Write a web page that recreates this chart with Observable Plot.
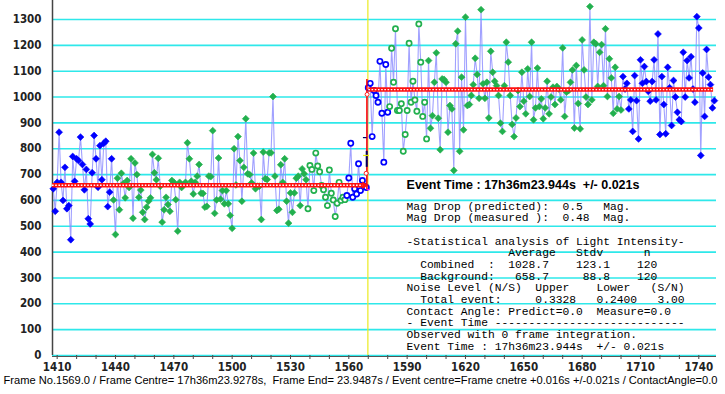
<!DOCTYPE html>
<html><head><meta charset="utf-8">
<script src="https://cdn.jsdelivr.net/npm/d3@7"></script>
<script src="https://cdn.jsdelivr.net/npm/@observablehq/plot@0.6"></script>
<style>
body{margin:0;background:#fff;}
svg text{white-space:pre;}
</style></head>
<body><div id="chart"></div>
<script>
// ---- data (one value per frame, starting at firstFrame) ----
const firstFrame = 1408;
const intensity = [
 645,558,670,864,670,600,728,568,580,448,770,674,761,754,845,739,641,720,529,509,707,851,761,651,812,680,821,829,576,632,761,
 602,468,686,564,705,665,610,677,650,761,531,745,700,612,640,554,526,574,597,610,778,707,680,763,655,516,564,612,584,558,677,670,603,481,670,650,660,670,
 823,761,674,625,670,694,739,628,627,574,577,694,692,870,550,602,764,605,638,587,638,587,542,492,800,660,847,754,597,728,
 916,703,700,668,783,645,655,655,526,787,684,681,784,784,1002,694,561,566,738,670,761,597,512,629,554,629,686,694,580,722,
 703,680,568,735,720,638,783,733,711,
 658,641,612,580,718,628,602,538,589,670,600,612,603,619,687,821,612,645,625,742,638,677,655,650,
 1036,1053,847,1025,1006,980,1138,937,748,1126,941,963,1189,1057,1264,948,948,974,790,855,948,1208,980,1061,989,945,1283,1135,925,980,
 838,1141,879,928,1057,1171,918,796,1070,1068,1057,864,967,
 954,716,1206,1255,790,1077,873,1309,967,971,1006,1048,1150,1087,995,1338,1051,995,1057,919,1177,1096,1061,1044,1006,899,867,1044,1212,1135,
 1006,894,847,919,1025,963,1096,984,935,1109,1002,1212,912,958,1112,963,993,916,958,1061,935,1000,1038,971,1041,1031,989,1190,925,1019,
 1025,1057,1105,880,1122,975,877,1221,1105,
 1000,971,1350,989,1212,1206,1041,1173,1203,1044,1264,1002,1148,1074,937,1115,954,1002,950,
 1079,1031,1053,954,989,867,1083,986,838,1144,1053,1118,1060,1022,984,1060,1144,989,1244,855,1079,971,858,1115,1036,890,1064,1000,941,912,
 905,1173,1000,1141,1074,1156,1031,980,1311,1267,774,1093,925,1184,1077,1048,958,986
];
// marker groups by frame range
const groupStart = [1408, 1439, 1539, 1559, 1581, 1601, 1701];
const groupColor = ["blue", "green", "green", "blue", "green", "green", "blue"];
const groupHollow = [false, false, true, true, true, false, false];
// mean levels
const levelValue = [658.7, 1028.7];
const levelFrom = [1407.6, 1570.3];
const levelTo = [1568.6, 1747.6];
const eventFrame = 1569.8;
// axis ticks
const yTicks = d3.range(0, 1301, 100);
const xMinorTicks = d3.range(1410, 1750, 10);
const xLabelTicks = [1410,1440,1470,1500,1530,1560,1590,1620,1650,1680,1710,1740];
// texts
const eventLine = "Event Time : 17h36m23.944s  +/- 0.021s";
const infoLines = [
 "Mag Drop (predicted):  0.5   Mag.",
 "Mag Drop (measured ):  0.48  Mag.",
 "",
 "-Statistical analysis of Light Intensity-",
 "               Average   Stdv      n",
 "  Combined  :  1028.7    123.1    120",
 "  Background:   658.7     88.8    120",
 "Noise Level (N/S)  Upper    Lower   (S/N)",
 "  Total event:     0.3328   0.2400   3.00",
 "Contact Angle: Predict=0.0  Measure=0.0",
 "- Event Time ----------------------------",
 "Observed with 0 frame integration.",
 "Event Time : 17h36m23.944s  +/- 0.021s"
];
const caption = "Frame No.1569.0 / Frame Centre= 17h36m23.9278s,  Frame End= 23.9487s / Event centre=Frame cnetre +0.016s +/-0.021s / ContactAngle=0.0";

// ---- build table ----
const colors = {blue: "#0000ff", green: "#22b04e"};
const pts = intensity.map((v, i) => {
  const f = firstFrame + i;
  let g = 0;
  for (let k = 0; k < groupStart.length; k++) if (f >= groupStart[k]) g = k;
  return {frame: f, value: v, color: colors[groupColor[g]], hollow: groupHollow[g]};
});
const levels = levelValue.map((v, i) => ({value: v, x1: levelFrom[i], x2: levelTo[i]}));

const cyan = "#2ee8ea";
const plot = Plot.plot({
  width: 725, height: 394,
  marginLeft: 52, marginRight: 9, marginTop: 0, marginBottom: 39,
  x: {domain: [1407.6, 1749.1]},
  y: {domain: [0, 1373.5]},
  style: {fontFamily: "'DejaVu Sans Condensed','Liberation Sans',sans-serif", fontSize: "12px", color: "#222"},
  marks: [
    Plot.gridY(yTicks, {stroke: cyan, strokeOpacity: 1, strokeWidth: 1.6}),
    Plot.axisY(yTicks, {tickSize: 0, tickPadding: 11, label: null, tickFormat: d => String(d), fontWeight: "bold", fontSize: 11.5}),
    Plot.axisX(xMinorTicks, {tickSize: 4, tickFormat: () => "", label: null, stroke: "#444"}),
    Plot.axisX(xLabelTicks, {tickSize: 0, tickPadding: 7, label: null, tickFormat: d => String(d), fontWeight: "bold", fontSize: 11.5}),
    Plot.ruleX([1407.6], {stroke: "#444", strokeWidth: 1.5}),
    Plot.ruleY([0], {stroke: "#555", strokeWidth: 1.2, dy: 1}),
    Plot.ruleX([eventFrame], {stroke: "#eaea20", strokeWidth: 1.2}),
    Plot.line(pts, {x: "frame", y: "value", stroke: "#8a8aff", strokeWidth: 1.1, strokeOpacity: 0.8}),
    Plot.dot(pts.filter(d => !d.hollow), {x: "frame", y: "value", symbol: "diamond2", r: 3.1, fill: "color", stroke: "color", strokeWidth: 0.6}),
    Plot.dot(pts.filter(d => d.hollow), {x: "frame", y: "value", symbol: "circle", r: 2.6, stroke: "color", strokeWidth: 1.7, fill: "white"}),
    Plot.ruleY(levels, {y: "value", x1: "x1", x2: "x2", stroke: "#ff1010", strokeWidth: 4.5}),
    Plot.ruleY(levels, {y: "value", x1: "x1", x2: "x2", stroke: "#ffffff", strokeWidth: 1.4, strokeDasharray: "1.6 1.6"}),
    Plot.ruleX([eventFrame - 0.5], {y1: 640, y2: 1068, stroke: "#ff0000", strokeWidth: 1.5}),
    Plot.ruleX([eventFrame - 0.6], {y1: 728, y2: 790, stroke: "#000060", strokeWidth: 2}),
    Plot.ruleY([843], {x1: eventFrame - 2.3, x2: eventFrame - 0.4, stroke: "#000060", strokeWidth: 1.2}),
    Plot.ruleY([774], {x1: eventFrame - 2.2, x2: eventFrame + 0.8, stroke: "#e8e800", strokeWidth: 1.2}),
    Plot.ruleY([705], {x1: eventFrame - 0.6, x2: eventFrame + 0.6, stroke: "#000060", strokeWidth: 1.2}),
    Plot.ruleY([642], {x1: eventFrame - 0.4, x2: eventFrame + 1.2, stroke: "#ff00ff", strokeWidth: 1.2}),
    Plot.dot([{f: eventFrame - 0.4, v: 1010}, {f: eventFrame - 0.9, v: 705}], {x: "f", y: "v", r: 2, stroke: "#ff2020", fill: "white", strokeWidth: 1}),
    Plot.dot([{f: levelTo[0] - 0.6, v: levelValue[0]}], {x: "f", y: "v", symbol: "triangle2", rotate: 90, r: 3.5, fill: "#ff1010"}),
    Plot.text([eventLine], {x: 1589.7, y: 661.6, textAnchor: "start", fontFamily: "'Liberation Sans',Arial,sans-serif", fontWeight: "bold", fontSize: 12.5, fill: "#000"}),
    Plot.text([infoLines.join("\n")], {x: 1589.7, y: 596, textAnchor: "start", lineAnchor: "top", lineHeight: 1.033, fontFamily: "'Liberation Mono','DejaVu Sans Mono',monospace", fontSize: 11.3, fill: "#000"}),
    Plot.text([caption], {frameAnchor: "bottom-left", dx: -49, dy: 28, textAnchor: "start", fontFamily: "'Liberation Sans',Arial,sans-serif", fontSize: 10.7, fill: "#000"})
  ]
});
document.getElementById("chart").appendChild(plot);
// fit the caption to the width it has in the reference
d3.select(plot).selectAll("text").filter(function() { return this.textContent === caption; })
  .attr("textLength", 714).attr("lengthAdjust", "spacingAndGlyphs");
</script>
</body></html>
